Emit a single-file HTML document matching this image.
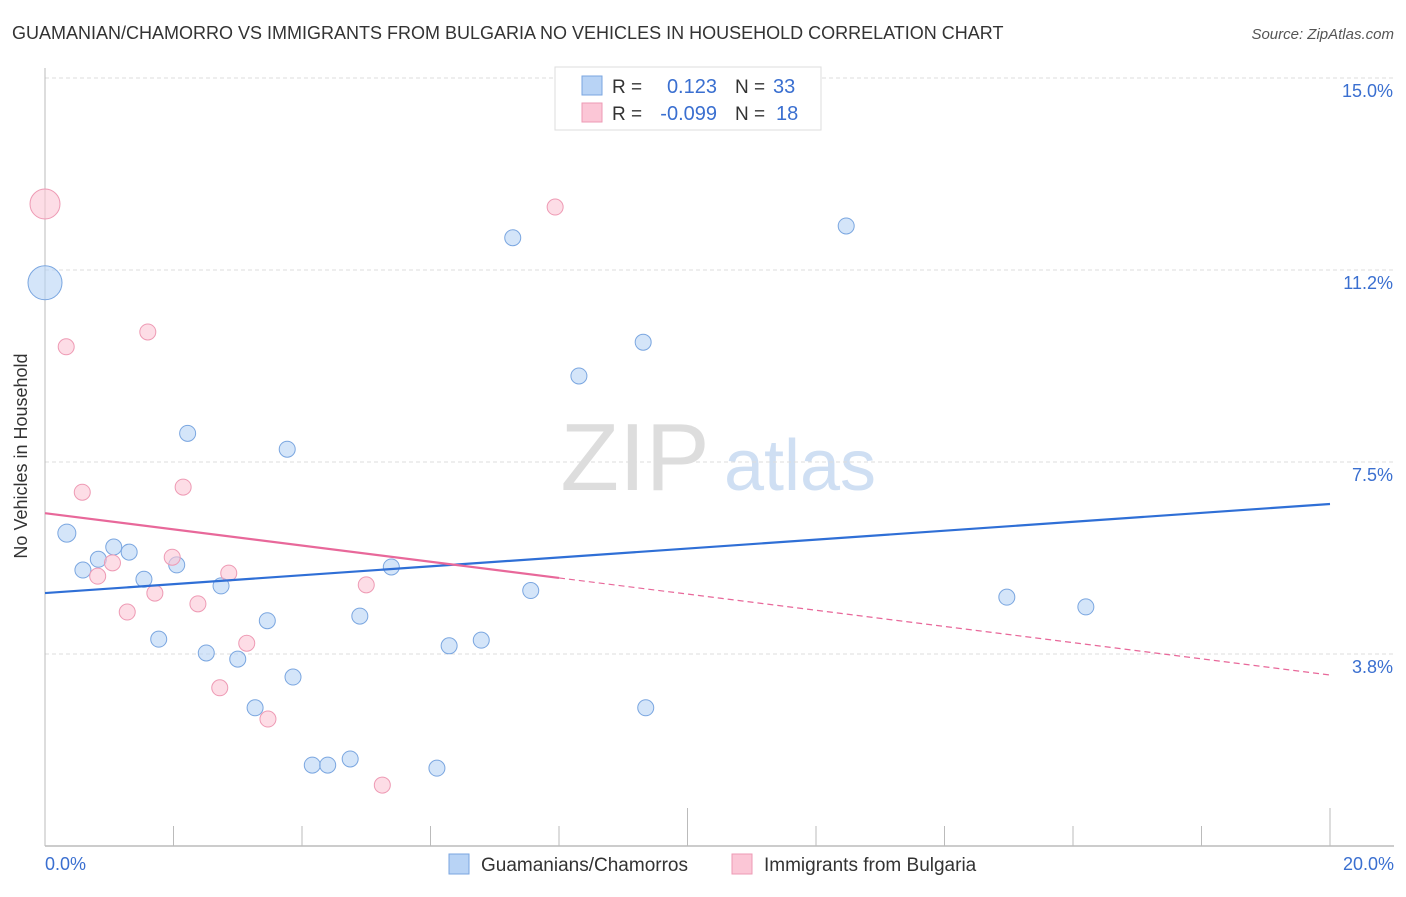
<!DOCTYPE html>
<html><head><meta charset="utf-8"><style>
body{margin:0;background:#fff;font-family:"Liberation Sans",sans-serif;}
svg text{font-family:"Liberation Sans",sans-serif;}
</style></head><body>
<svg id="chart" width="1406" height="892">
<text x="12" y="39" font-size="18" fill="#333">GUAMANIAN/CHAMORRO VS IMMIGRANTS FROM BULGARIA NO VEHICLES IN HOUSEHOLD CORRELATION CHART</text>
<text x="1394" y="39" font-size="15" fill="#555" font-style="italic" text-anchor="end">Source: ZipAtlas.com</text>
<text x="27" y="456" font-size="18" fill="#333" text-anchor="middle" transform="rotate(-90 27 456)">No Vehicles in Household</text>
<text x="635" y="490" font-size="96" fill="#ddd" font-family="Liberation Serif" text-anchor="middle">ZIP</text>
<text x="800" y="490" font-size="72" fill="#cfdff3" text-anchor="middle">atlas</text>
<g id="grid"></g><g id="marks"></g>
<g>
<rect x="555" y="67" width="266" height="63" fill="#fff" stroke="#ddd"/>
<rect x="582" y="76" width="20" height="19" fill="#b8d3f5" stroke="#7aa6e0"/>
<rect x="582" y="103" width="20" height="19" fill="#fbc6d6" stroke="#ee9ab4"/>
<text x="612" y="93" font-size="19" fill="#333">R =</text><text x="717" y="93" font-size="20" fill="#3a6fd0" text-anchor="end">0.123</text>
<text x="735" y="93" font-size="19" fill="#333">N =</text><text x="773" y="93" font-size="20" fill="#3a6fd0">33</text>
<text x="612" y="120" font-size="19" fill="#333">R =</text><text x="717" y="120" font-size="20" fill="#3a6fd0" text-anchor="end">-0.099</text>
<text x="735" y="120" font-size="19" fill="#333">N =</text><text x="776" y="120" font-size="20" fill="#3a6fd0">18</text>
</g>
<g>
<rect x="449" y="854" width="20" height="20" fill="#b8d3f5" stroke="#7aa6e0"/>
<text x="481" y="871" font-size="19" fill="#333">Guamanians/Chamorros</text>
<rect x="732" y="854" width="20" height="20" fill="#fbc6d6" stroke="#ee9ab4"/>
<text x="764" y="871" font-size="19" fill="#333">Immigrants from Bulgaria</text>
</g>
</svg>
<script>
const blueX=[0,0.34,0.59,0.83,1.07,1.31,1.54,1.77,2.05,2.22,2.51,2.74,3.0,3.27,3.46,3.77,3.86,4.16,4.4,4.75,4.9,5.39,6.1,6.29,6.79,7.28,7.56,8.31,9.31,9.35,12.47,14.97,16.2];
const blueY=[11.0,6.11,5.39,5.6,5.84,5.74,5.21,4.04,5.49,8.06,3.77,5.08,3.65,2.7,4.4,7.75,3.3,1.58,1.58,1.7,4.49,5.45,1.52,3.91,4.02,11.88,4.99,9.18,9.84,2.7,12.11,4.86,4.67];
const blueR=[17,9,8,8,8,8,8,8,8,8,8,8,8,8,8,8,8,8,8,8,8,8,8,8,8,8,8,8,8,8,8,8,8];
const pinkX=[0,0.33,0.58,0.82,1.05,1.28,1.6,1.71,1.98,2.15,2.38,2.72,2.86,3.14,3.47,5.0,5.25,7.94];
const pinkY=[12.54,9.75,6.91,5.27,5.53,4.57,10.04,4.94,5.64,7.01,4.73,3.09,5.33,3.96,2.48,5.1,1.19,12.48];
const pinkR=[15,8,8,8,8,8,8,8,8,8,8,8,8,8,8,8,8,8];
const yTicks=[15.0,11.2,7.5,3.8];
const yTickLabels=["15.0%","11.2%","7.5%","3.8%"];
const blueTrend=[4.94,6.68];
const pinkTrend=[6.50,3.34];
const pinkSolidEnd=8;
const X=v=>45+v*64.25, Y=v=>846-v*51.2;
const NS="http://www.w3.org/2000/svg";
function mk(tag,attrs,parent){const e=document.createElementNS(NS,tag);for(const k in attrs)e.setAttribute(k,attrs[k]);parent.appendChild(e);return e;}
const grid=document.getElementById('grid'),marks=document.getElementById('marks');
const yVals=[15,11.25,7.5,3.75];
yTicks.forEach((t,i)=>{
 const g=mk('line',{x1:45,x2:1394,y1:Y(yVals[i]),y2:Y(yVals[i]),stroke:'#ddd','stroke-dasharray':'4,3'},grid);
 
 
 const tx=mk('text',{x:1393,y:Y(yVals[i])+19,'font-size':18,fill:'#3a6fd0','text-anchor':'end'},grid);
 tx.textContent=yTickLabels[i];
 
 
});
const ax=mk('line',{x1:45,x2:45,y1:68,y2:846,stroke:'#bbb'},grid);


const bx=mk('line',{x1:45,x2:1394,y1:846,y2:846,stroke:'#bbb','stroke-width':1.5},grid);


for(let i=0;i<=10;i++){const v=i*2;const tl=mk('line',{x1:X(v),x2:X(v),y1:(i==5||i==10)?808:826,y2:846,stroke:'#bbb'},grid);
 
 }
[["0.0%",45,'start'],["20.0%",1394,'end']].forEach(a=>{const t=mk('text',{x:a[1],y:870,'font-size':18,fill:'#3a6fd0','text-anchor':a[2]},grid);t.textContent=a[0];
 
 });
blueX.forEach((v,i)=>{const c=mk('circle',{cx:X(v),cy:Y(blueY[i]),r:blueR[i],fill:'rgba(184,211,245,0.6)',stroke:'#7aa6e0','stroke-width':1},marks);
 
 });
pinkX.forEach((v,i)=>{const c=mk('circle',{cx:X(v),cy:Y(pinkY[i]),r:pinkR[i],fill:'rgba(251,198,214,0.6)',stroke:'#ee9ab4','stroke-width':1},marks);
 
 });
const bl=mk('line',{x1:X(0),y1:Y(blueTrend[0]),x2:X(20),y2:Y(blueTrend[1]),stroke:'#2f6fd6','stroke-width':2.2},marks);


const pm=pinkTrend[0]+(pinkTrend[1]-pinkTrend[0])*pinkSolidEnd/20;
const pl=mk('line',{x1:X(0),y1:Y(pinkTrend[0]),x2:X(pinkSolidEnd),y2:Y(pm),stroke:'#e8689a','stroke-width':2.2},marks);


const pd=mk('line',{x1:X(pinkSolidEnd),y1:Y(pm),x2:X(20),y2:Y(pinkTrend[1]),stroke:'#e8689a','stroke-width':1.2,'stroke-dasharray':'6,4'},marks);


</script>
</body></html>
